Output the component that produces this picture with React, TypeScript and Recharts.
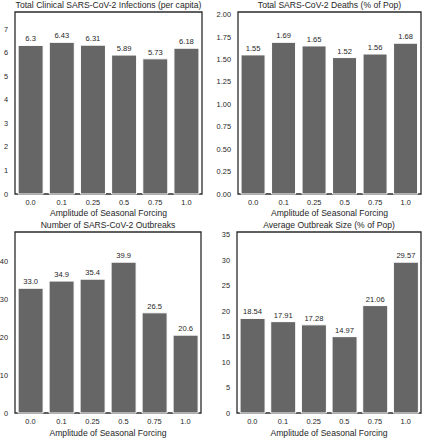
import React from 'react';
import { BarChart, Bar, XAxis, YAxis, LabelList, ReferenceArea, Label } from 'recharts';

const forcing = ['0.0', '0.1', '0.25', '0.5', '0.75', '1.0'];
const infections = [6.3, 6.43, 6.31, 5.89, 5.73, 6.18];
const deaths = [1.55, 1.69, 1.65, 1.52, 1.56, 1.68];
const outbreaks = [33.0, 34.9, 35.4, 39.9, 26.5, 20.6];
const outbreakSize = [18.54, 17.91, 17.28, 14.97, 21.06, 29.57];

const infectionTicks = [0, 1, 2, 3, 4, 5, 6, 7];
const deathTicks = [0, 0.25, 0.5, 0.75, 1, 1.25, 1.5, 1.75, 2];
const outbreakTicks = [0, 10, 20, 30, 40];
const sizeTicks = [0, 5, 10, 15, 20, 25, 30, 35];

const TEXT = '#262626';
const BAR = '#666666';

interface PanelProps {
  title: string;
  values: number[];
  ticks: number[];
  tickFmt: (v: number) => string;
  labelFmt: (v: number) => string;
  left: number;
  top: number;
  width: number;
  yWidth: number;
  right: number;
  xHeight: number;
}

function Panel({ title, values, ticks, tickFmt, labelFmt, left, top, width, yWidth, right, xHeight }: PanelProps) {
  const data = forcing.map((f, i) => ({ forcing: f, value: values[i] }));
  const yMax = Math.max(...values) * 1.2;

  return (
    <div style={{ position: 'absolute', left, top }}>
      <BarChart
        width={width}
        height={220}
        data={data}
        margin={{ top: 12, right, bottom: 0, left: 0 }}
        barCategoryGap="10%"
      >
        <XAxis
          dataKey="forcing"
          height={xHeight}
          axisLine={false}
          tickLine={false}
          tickSize={0}
          tickMargin={6}
          interval={0}
          tick={{ fontSize: 7.4, fill: TEXT }}
        >
          <Label
            value="Amplitude of Seasonal Forcing"
            position="insideBottom"
            offset={4}
            style={{ fontSize: 8.6, fill: TEXT }}
          />
        </XAxis>
        <YAxis
          width={yWidth}
          domain={[0, yMax]}
          ticks={ticks}
          axisLine={false}
          tickLine={false}
          tickSize={0}
          tickMargin={7}
          tickFormatter={tickFmt}
          tick={{ fontSize: 7.4, fill: TEXT }}
        />
        <Bar dataKey="value" fill={BAR} stroke="#ffffff" strokeWidth={1} isAnimationActive={false}>
          <LabelList
            dataKey="value"
            position="top"
            offset={4}
            formatter={(v: any) => labelFmt(Number(v))}
            style={{ fontSize: 7.6, fill: TEXT }}
          />
        </Bar>
        <ReferenceArea
          y1={0}
          y2={yMax}
          fill="none"
          stroke="#2b2b2b"
          strokeWidth={1.3}
          ifOverflow="visible"
          label={{ value: title, position: 'top', offset: 4.5, style: { fontSize: 8.6, fill: TEXT } }}
        />
      </BarChart>
    </div>
  );
}

export default function App() {
  return (
    <div
      style={{
        position: 'absolute',
        left: 0,
        top: 0,
        width: 423,
        height: 440,
        background: '#ffffff',
        fontFamily: '"Liberation Sans", Arial, sans-serif',
      }}
    >
      <Panel
        title="Total Clinical SARS-CoV-2 Infections (per capita)"
        values={infections}
        ticks={infectionTicks}
        tickFmt={(v) => String(v)}
        labelFmt={(v) => String(v)}
        left={0}
        top={0}
        width={211}
        yWidth={15}
        right={9}
        xHeight={26}
      />
      <Panel
        title="Total SARS-CoV-2 Deaths (% of Pop)"
        values={deaths}
        ticks={deathTicks}
        tickFmt={(v) => v.toFixed(2)}
        labelFmt={(v) => String(v)}
        left={211}
        top={0}
        width={212}
        yWidth={27}
        right={2}
        xHeight={26}
      />
      <Panel
        title="Number of SARS-CoV-2 Outbreaks"
        values={outbreaks}
        ticks={outbreakTicks}
        tickFmt={(v) => String(v)}
        labelFmt={(v) => v.toFixed(1)}
        left={0}
        top={220}
        width={211}
        yWidth={15}
        right={10}
        xHeight={27}
      />
      <Panel
        title="Average Outbreak Size (% of Pop)"
        values={outbreakSize}
        ticks={sizeTicks}
        tickFmt={(v) => String(v)}
        labelFmt={(v) => String(v)}
        left={211}
        top={220}
        width={212}
        yWidth={26}
        right={2}
        xHeight={27}
      />
    </div>
  );
}
